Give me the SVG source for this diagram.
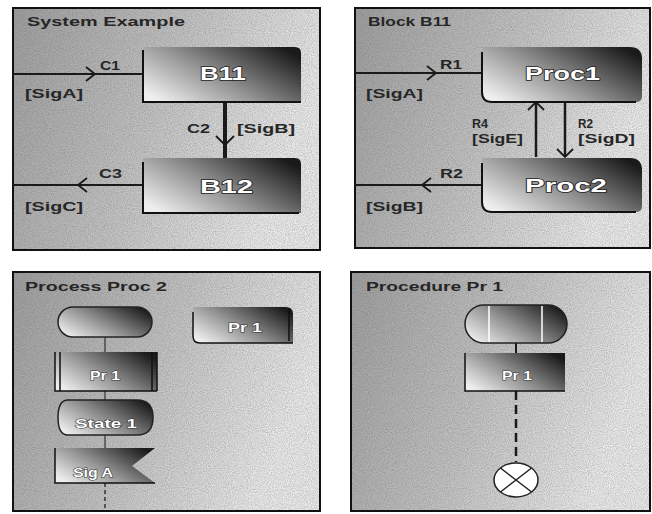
<svg xmlns="http://www.w3.org/2000/svg" width="652" height="514" viewBox="0 0 652 514">
<defs>
<linearGradient id="bg" x1="0" y1="0" x2="1" y2="0.3">
<stop offset="0" stop-color="#9e9e9e"/>
<stop offset="0.55" stop-color="#c4c4c4"/>
<stop offset="1" stop-color="#ebebeb"/>
</linearGradient>
<linearGradient id="nodeg" x1="0" y1="0.8" x2="1" y2="0.2">
<stop offset="0" stop-color="#eeeeee"/>
<stop offset="0.45" stop-color="#939393"/>
<stop offset="1" stop-color="#1a1a1a"/>
</linearGradient>
<filter id="grain" x="0" y="0" width="1" height="1">
<feTurbulence type="fractalNoise" baseFrequency="0.95" numOctaves="2" seed="3" result="t"/>
<feColorMatrix in="t" type="matrix" values="0 0 0 0 0  0 0 0 0 0  0 0 0 0 0  0 0 0 -1.6 1.1" result="a"/>
<feComposite in="SourceGraphic" in2="a" operator="in"/>
</filter>
<style>
.frame{fill:url(#bg);stroke:#111;stroke-width:2}
.noise{fill:#555;opacity:0.35}
.nf{fill:url(#nodeg)}
.edge{fill:none;stroke:#111;stroke-width:2}
.ln{fill:none;stroke:#1a1a1a;stroke-width:2}
.thin{fill:none;stroke:#333;stroke-width:1.2}
.ah{fill:none;stroke:#1a1a1a;stroke-width:1.8}
.title{font-family:"Liberation Sans",Arial,sans-serif;font-weight:bold;font-size:12.5px;fill:#262626}
.lbl{font-family:"Liberation Sans",Arial,sans-serif;font-weight:bold;font-size:12.5px;fill:#262626}
.big{font-family:"Liberation Sans",Arial,sans-serif;font-weight:bold;font-size:19px;fill:#fff;stroke:#222;stroke-width:1.4;paint-order:stroke}
.sm{font-family:"Liberation Sans",Arial,sans-serif;font-weight:bold;font-size:12.5px;fill:#fff;stroke:#333;stroke-width:1;paint-order:stroke}
</style>
</defs>
<rect width="652" height="514" fill="#fff"/>

<g id="panel-system">
<rect class="frame" x="13" y="8" width="307" height="242"/>
<rect class="noise" x="14" y="9" width="305" height="240" filter="url(#grain)"/>
<text class="title" x="27" y="26" textLength="158" lengthAdjust="spacingAndGlyphs">System Example</text>
</g>
<g id="panel-block">
<rect class="frame" x="355" y="8" width="295" height="240"/>
<rect class="noise" x="356" y="9" width="293" height="238" filter="url(#grain)"/>
<text class="title" x="368" y="26" textLength="83" lengthAdjust="spacingAndGlyphs">Block B11</text>
</g>
<g id="panel-process">
<rect class="frame" x="13" y="272" width="307" height="239"/>
<rect class="noise" x="14" y="273" width="305" height="237" filter="url(#grain)"/>
<text class="title" x="25" y="291" textLength="142" lengthAdjust="spacingAndGlyphs">Process Proc 2</text>
</g>
<g id="panel-procedure">
<rect class="frame" x="351" y="272" width="299" height="239"/>
<rect class="noise" x="352" y="273" width="297" height="237" filter="url(#grain)"/>
<text class="title" x="366" y="291" textLength="137" lengthAdjust="spacingAndGlyphs">Procedure Pr 1</text>
</g>

<g id="connectors">
<path class="ln" d="M13,74 H143"/>
<polyline class="ah" points="86,67 95,74 86,81"/>
<text class="lbl" x="100" y="70" textLength="20" lengthAdjust="spacingAndGlyphs">C1</text>
<text class="lbl" x="25" y="98" textLength="58" lengthAdjust="spacingAndGlyphs">[SigA]</text>
<path class="ln" d="M225,102 V158" style="stroke-width:4"/>
<polyline class="ah" points="216,136 225,145 234,136"/>
<text class="lbl" x="187" y="133" textLength="23" lengthAdjust="spacingAndGlyphs">C2</text>
<text class="lbl" x="237" y="133" textLength="58" lengthAdjust="spacingAndGlyphs">[SigB]</text>
<path class="ln" d="M13,185 H143"/>
<polyline class="ah" points="87,178 78,185 87,192"/>
<text class="lbl" x="99" y="178" textLength="23" lengthAdjust="spacingAndGlyphs">C3</text>
<text class="lbl" x="25" y="211" textLength="58" lengthAdjust="spacingAndGlyphs">[SigC]</text>

<path class="ln" d="M355,73 H482"/>
<polyline class="ah" points="427,66 436,73 427,80"/>
<text class="lbl" x="440" y="69" textLength="22" lengthAdjust="spacingAndGlyphs">R1</text>
<text class="lbl" x="366" y="98" textLength="57" lengthAdjust="spacingAndGlyphs">[SigA]</text>
<path class="ln" d="M355,185 H482"/>
<polyline class="ah" points="431,178 422,185 431,192"/>
<text class="lbl" x="440" y="178" textLength="23" lengthAdjust="spacingAndGlyphs">R2</text>
<text class="lbl" x="366" y="211" textLength="57" lengthAdjust="spacingAndGlyphs">[SigB]</text>
<path class="ln" d="M536,157 V102" style="stroke-width:2.5"/>
<polyline class="ah" points="528,110 536,102 544,110"/>
<path class="ln" d="M565,102 V157" style="stroke-width:2.5"/>
<polyline class="ah" points="557,149 565,157 573,149"/>
<text class="lbl" x="472" y="128" textLength="16" lengthAdjust="spacingAndGlyphs">R4</text>
<text class="lbl" x="472" y="143" textLength="51" lengthAdjust="spacingAndGlyphs">[SigE]</text>
<text class="lbl" x="578" y="128" textLength="15" lengthAdjust="spacingAndGlyphs">R2</text>
<text class="lbl" x="578" y="143" textLength="57" lengthAdjust="spacingAndGlyphs">[SigD]</text>

<path class="thin" d="M105,337 V352 M105,391 V400 M105,435 V448"/>
<path class="thin" d="M105,483 V511" style="stroke-width:1.5;stroke-dasharray:4 3"/>
<path class="ln" d="M516,343 V353"/>
<path class="ln" d="M516,391 V462" style="stroke-width:2.5;stroke-dasharray:9 5"/>
</g>

<g id="B11">
<path class="nf" d="M143,47 H295 Q301,47 301,53 V102 H143 Z"/>
<path class="edge" d="M143,50 V102 H301"/>
<text class="big" x="200" y="80" textLength="46" lengthAdjust="spacingAndGlyphs">B11</text>
</g>
<g id="B12">
<path class="nf" d="M143,158 H295 Q301,158 301,164 V213 H143 Z"/>
<path class="edge" d="M143,162 V213 H299"/>
<text class="big" x="200" y="193" textLength="53" lengthAdjust="spacingAndGlyphs">B12</text>
</g>
<g id="Proc1">
<path class="nf" d="M482,47 H630 Q642,47 642,59 V96 Q642,102 636,102 H492 Q482,102 482,92 Z"/>
<path class="edge" d="M482,52 V92 Q482,102 492,102 H636"/>
<text class="big" x="525" y="80" textLength="75" lengthAdjust="spacingAndGlyphs">Proc1</text>
</g>
<g id="Proc2">
<path class="nf" d="M482,158 H630 Q642,158 642,170 V206 Q642,212 636,212 H492 Q482,212 482,202 Z"/>
<path class="edge" d="M482,163 V202 Q482,212 492,212 H636"/>
<text class="big" x="525" y="192" textLength="82" lengthAdjust="spacingAndGlyphs">Proc2</text>
</g>

<g id="proc2-start">
<rect class="nf" x="58" y="307" width="94" height="30" rx="15" style="stroke:#222;stroke-width:1.5"/>
</g>
<g id="proc2-call-pr1">
<rect class="nf" x="55" y="352" width="102" height="39"/>
<path class="edge" d="M55,352 V391 H157 M60,352 V391 M152,352 V391 M157,352 V391" style="stroke-width:1.5"/>
<text class="sm" x="90" y="380" textLength="30" lengthAdjust="spacingAndGlyphs">Pr 1</text>
</g>
<g id="proc2-state1">
<path class="nf" d="M68,400 H137 Q153,400 153,417.5 Q153,435 137,435 H68 Q58,435 58,417.5 Q58,400 68,400 Z" style="stroke:#222;stroke-width:1.5"/>
<text class="sm" x="75" y="428" textLength="62" lengthAdjust="spacingAndGlyphs">State 1</text>
</g>
<g id="proc2-input-siga">
<path class="nf" d="M55,448 H155 L132,466 L155,483 H55 Z"/>
<path class="edge" d="M55,448 V483 H155" style="stroke-width:1.5"/>
<text class="sm" x="73" y="477" textLength="40" lengthAdjust="spacingAndGlyphs">Sig A</text>
</g>
<g id="proc2-ref-pr1">
<path class="nf" d="M193,307 H286 Q293,307 293,314 V343 H200 Q193,343 193,336 Z"/>
<path class="edge" d="M193,312 V336 Q193,343 200,343 H293 M289,309 V341" style="stroke-width:1.5"/>
<text class="sm" x="228" y="332" textLength="34" lengthAdjust="spacingAndGlyphs">Pr 1</text>
</g>

<g id="pr1-start">
<rect class="nf" x="465" y="305" width="102" height="38" rx="19" style="stroke:#222;stroke-width:1.5"/>
<path d="M489,306 V342 M542,306 V342" stroke="#fff" stroke-width="1.5"/>
</g>
<g id="pr1-call">
<rect class="nf" x="465" y="353" width="100" height="38"/>
<path class="edge" d="M465,353 V391 H565" style="stroke-width:1.5"/>
<text class="sm" x="502" y="380" textLength="30" lengthAdjust="spacingAndGlyphs">Pr 1</text>
</g>
<g id="pr1-return">
<ellipse cx="516" cy="480" rx="22" ry="17" fill="#fff" stroke="#222" stroke-width="1.5"/>
<path d="M500.4,468 L531.6,492 M531.6,468 L500.4,492" stroke="#222" stroke-width="1.5"/>
</g>
</svg>
